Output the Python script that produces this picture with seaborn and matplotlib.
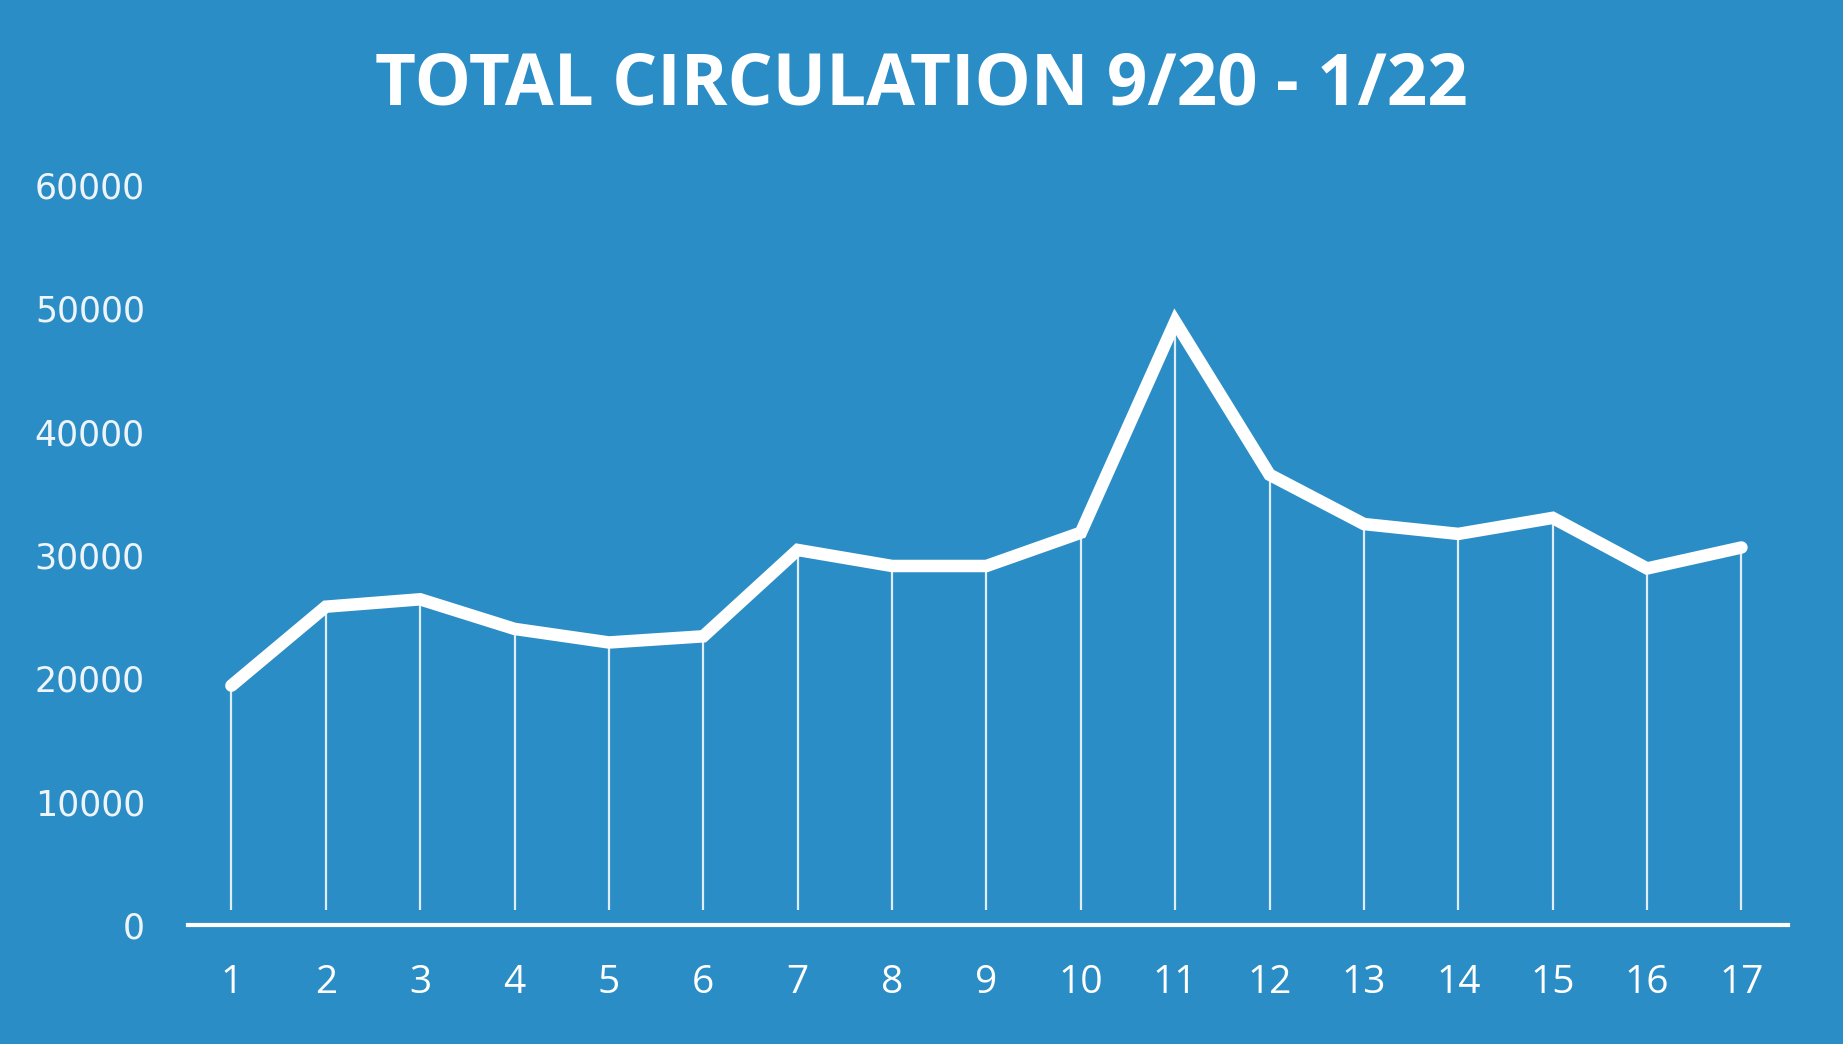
import numpy as np
import pandas as pd
from matplotlib import pyplot as plt
import seaborn as sns

# weekly total circulation
weeks = list(range(1, 18))
circulation = [19400, 25800, 26400, 24000, 22900, 23400, 30400, 29100, 29100,
               31800, 48900, 36500, 32500, 31700, 33000, 28900, 30600]
y_ticks = [0, 10000, 20000, 30000, 40000, 50000, 60000]

BG = '#2b8dc5'

df = pd.DataFrame({'week': weeks, 'circulation': circulation})

sns.set_style("white")
fig = plt.figure(figsize=(18.43, 10.44), dpi=100, facecolor=BG)
ax = fig.add_axes([0.102, 0.114, 0.868, 0.709])
ax.set_facecolor(BG)

# thin drop lines from every point down to the axis
ax.vlines(df['week'], 1200, df['circulation'], color='white', linewidth=1.6, alpha=0.85)
sns.lineplot(data=df, x='week', y='circulation', ax=ax, color='white',
             linewidth=9, solid_capstyle='round', solid_joinstyle='miter')

ax.set_xlim(0.54, 17.49)
ax.set_ylim(0, 60000)
ax.set_xticks(weeks)
ax.set_xticklabels([str(w) for w in weeks], fontsize=28, color='white', family='Open Sans')
ax.set_yticks(y_ticks)
ax.set_yticklabels([str(v) for v in y_ticks], fontsize=25, color='#eef4fa', family='DejaVu Sans')
ax.tick_params(axis='x', length=0, pad=28)
ax.tick_params(axis='y', length=0, pad=31)
ax.set_xlabel('')
ax.set_ylabel('')

for side in ['top', 'right', 'left']:
    ax.spines[side].set_visible(False)
ax.spines['bottom'].set_color('white')
ax.spines['bottom'].set_linewidth(3)

fig.text(0.5, 0.918, 'TOTAL CIRCULATION 9/20 - 1/22', ha='center', va='center',
         fontsize=51, fontweight='bold', color='white', family='Open Sans')

plt.savefig('out.png', dpi=100, facecolor=BG)
plt.close()
